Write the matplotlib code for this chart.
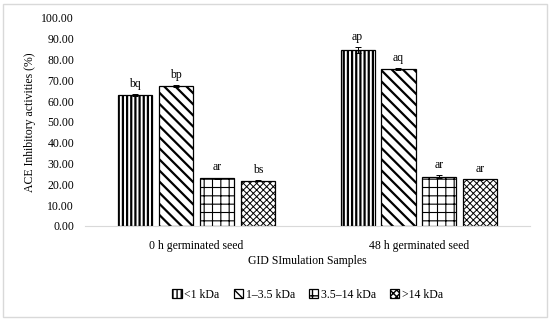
import numpy as np
import matplotlib
matplotlib.use("Agg")
import matplotlib.pyplot as plt
from matplotlib.patches import Rectangle

# data
groups = ["0 h germinated seed", "48 h germinated seed"]
fractions = ["<1 kDa", "1\u20133.5 kDa", "3.5\u201314 kDa", ">14 kDa"]
lt1 = [63.0, 84.6]
f1_35 = [67.3, 75.3]
f35_14 = [23.0, 23.7]
gt14 = [21.8, 22.4]
err_lt1 = [0.5, 1.5]
err_1_35 = [0.4, 0.5]
err_35_14 = [0.3, 0.6]
err_gt14 = [0.4, 0.3]
labels_lt1 = ["bq", "ap"]
labels_1_35 = ["bp", "aq"]
labels_35_14 = ["ar", "ar"]
labels_gt14 = ["bs", "ar"]

plt.rcParams["font.family"] = ["Liberation Serif", "DejaVu Serif"]

fig = plt.figure(figsize=(5.5, 3.21), dpi=100)
ax = fig.add_axes([0.155, 0.296, 0.809, 0.648])

# light grey frame round the whole figure
fig.patches.append(Rectangle((0.006, 0.012), 0.988, 0.976, transform=fig.transFigure,
                             fill=False, edgecolor="#d9d9d9", linewidth=1.0))

series = [lt1, f1_35, f35_14, gt14]
errs = [err_lt1, err_1_35, err_35_14, err_gt14]
tags = [labels_lt1, labels_1_35, labels_35_14, labels_gt14]
hatches = ["||||", "\\\\\\", "++", "xxxxx"]
hatch_lw = [1.6, 1.6, 0.8, 0.7]

x = np.arange(len(groups))
step = 0.184
width = 0.153
for i, (vals, er, tg, h) in enumerate(zip(series, errs, tags, hatches)):
    pos = x + (i - 1.5) * step
    with plt.rc_context({"hatch.linewidth": hatch_lw[i]}):
        ax.bar(pos, vals, width, color="white", edgecolor="black", hatch=h,
               linewidth=0.9, label=fractions[i], zorder=2)
    ax.errorbar(pos, vals, yerr=er, fmt="none", ecolor="black", elinewidth=0.7,
                capsize=2, capthick=0.7, zorder=3)
    for p, v, e, t in zip(pos, vals, er, tg):
        ax.text(p, v + e + 2.0, t, ha="center", va="bottom", fontsize=8.5)

ax.set_xlim(-0.5, 1.5)
ax.set_ylim(0, 100)
ax.set_yticks(np.arange(0, 101, 10))
ax.set_yticklabels(["%.2f" % v for v in np.arange(0, 101, 10)])
ax.set_xticks(x)
ax.set_xticklabels(groups)
ax.tick_params(axis="y", length=0, labelsize=8.5, pad=8)
ax.tick_params(axis="x", length=0, labelsize=8.5, pad=10)

for s in ["top", "right", "left"]:
    ax.spines[s].set_visible(False)
ax.spines["bottom"].set_color("#d9d9d9")

ax.set_ylabel("ACE Inhibitory activities (%)", fontsize=8.5, labelpad=4)
ax.set_xlabel("GID SImulation Samples", fontsize=8.5, labelpad=2)

ax.legend(loc="upper center", bbox_to_anchor=(0.5, -0.25), ncol=4, frameon=False,
          fontsize=8.5, handlelength=0.8, handleheight=0.8, handletextpad=0.2,
          columnspacing=1.2)

fig.savefig("out.png", dpi=100)
